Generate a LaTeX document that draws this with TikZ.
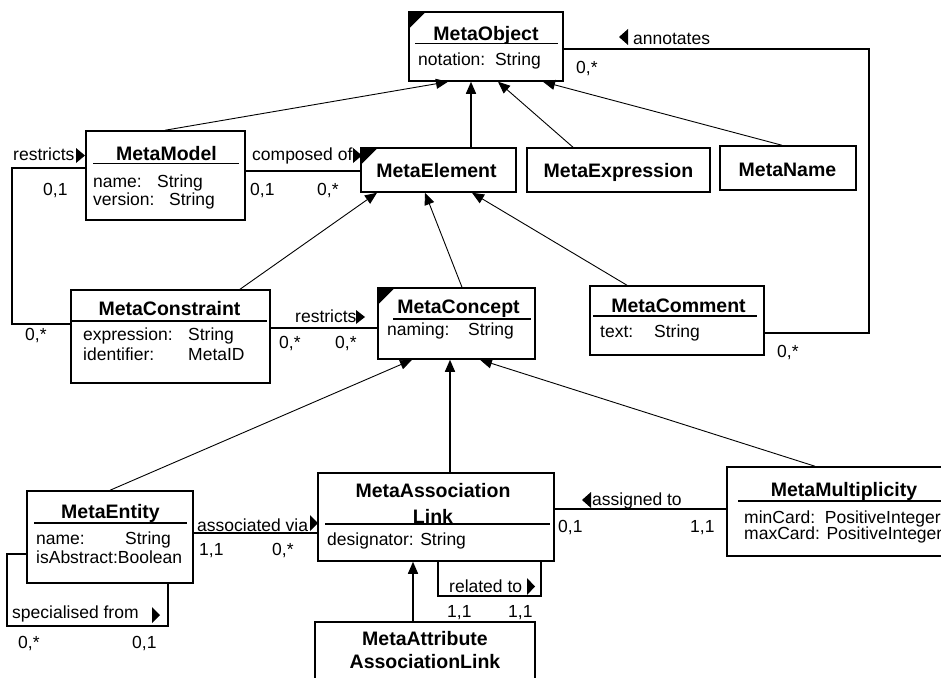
\documentclass[tikz,border=0pt]{standalone}
\usepackage{fontspec}
\setmainfont{Liberation Sans}
\usetikzlibrary{arrows.meta}
\begin{document}
\begin{tikzpicture}[x=1pt,y=-1pt,
  box/.style={draw, line width=1.5pt, inner sep=0pt, fill=white},
  ttl/.style={font=\fontsize{19.5}{21}\selectfont\bfseries, inner sep=0pt, anchor=base},
  txt/.style={font=\fontsize{17.5}{19}\selectfont, inner sep=0pt, anchor=base west},
  gen/.style={-{Triangle[length=12pt,width=10pt]}, line width=0.9pt},
  genv/.style={gen, line width=1.5pt},
  assoc/.style={line width=1.5pt},
  uline/.style={line width=1.5pt}]
\path[use as bounding box] (0,0) rectangle (941,677);
\clip (0,0) rectangle (941,677);

% ---- boxes ----
\node[box, minimum width=154pt, minimum height=69pt] (obj) at (486,46.5) {};
\node[box, minimum width=159pt, minimum height=89pt] (model) at (165.5,175.5) {};
\node[box, minimum width=155pt, minimum height=44pt] (elem) at (438.5,170) {};
\node[box, minimum width=183pt, minimum height=44pt] (expr) at (618.5,170) {};
\node[box, minimum width=136pt, minimum height=44pt] (mname) at (788,168) {};
\node[box, minimum width=199pt, minimum height=93pt] (cons) at (170.5,336.5) {};
\node[box, minimum width=157pt, minimum height=71pt] (concept) at (456.5,323.5) {};
\node[box, minimum width=174pt, minimum height=69pt] (comment) at (677,320.5) {};
\node[box, minimum width=166pt, minimum height=92pt] (entity) at (110,537) {};
\node[box, minimum width=236pt, minimum height=88pt] (assoc) at (436,517) {};
\node[box, minimum width=223pt, minimum height=89pt] (mult) at (838.5,511.5) {};
\node[box, minimum width=220pt, minimum height=78pt] (attr) at (425,661) {};

% corner triangles
\fill (obj.north west) -- ++(18,0) -- ++(-18,18) -- cycle;
\fill (elem.north west) -- ++(18,0) -- ++(-18,18) -- cycle;
\fill (concept.north west) -- ++(18,0) -- ++(-18,18) -- cycle;

% ---- box texts ----
\node[ttl] (objt) at (486,41) {MetaObject};
\draw[uline] (415,43.5) -- (558,43.5);
\node[txt] (obja) at (418,65) {notation:\ \ String};

\node[ttl] (modelt) at (166.5,160) {MetaModel};
\draw[uline] (93,163.5) -- (239,163.5);
\node[txt] (modela1) at (93,187) {name:};
\node[txt] (modela2) at (157,187) {String};
\node[txt] (modela3) at (93,205) {version:};
\node[txt] (modela4) at (169,205) {String};

\node[ttl] (elemt) at (436.5,177) {MetaElement};
\node[ttl] (exprt) at (618.5,177) {MetaExpression};
\node[ttl] (mnamet) at (787.5,176) {MetaName};

\node[ttl] (const) at (169.5,315) {MetaConstraint};
\draw[uline] (71,321) -- (267,321);
\node[txt] (consa1) at (83,340) {expression:};
\node[txt] (consa2) at (188,340) {String};
\node[txt] (consa3) at (83,360) {identifier:};
\node[txt] (consa4) at (188,360) {MetaID};

\node[ttl] (conceptt) at (458.5,313) {MetaConcept};
\draw[uline] (393,319) -- (531,319);
\node[txt] (concepta1) at (387,335) {naming:};
\node[txt] (concepta2) at (468,335) {String};

\node[ttl] (commentt) at (678.5,312) {MetaComment};
\draw[uline] (593,316) -- (757,316);
\node[txt] (commenta1) at (600,337) {text:};
\node[txt] (commenta2) at (654,337) {String};

\node[ttl] (entityt) at (110.5,518) {MetaEntity};
\draw[uline] (34,523) -- (187,523);
\node[txt] (entitya1) at (36,544) {name:};
\node[txt] (entitya2) at (125,544) {String};
\node[txt] (entitya3) at (36,563) {isAbstract:Boolean};

\node[ttl] (assoct1) at (433,497) {MetaAssociation};
\node[ttl] (assoct2) at (433,523) {Link};
\draw[uline] (325,524) -- (550,524);
\node[txt] (assoca) at (327,545) {designator: String};

\node[ttl] (multt) at (844,496) {MetaMultiplicity};
\draw[uline] (738,501) -- (945,501);
\node[txt] (multa1) at (744,523) {minCard:\ \ PositiveInteger};
\node[txt] (multa3) at (744,539) {maxCard: PositiveInteger};

\node[ttl] (attrt1) at (425,645) {MetaAttribute};
\node[ttl] (attrt2) at (425,668) {AssociationLink};

% ---- generalisations ----
\draw[gen] (model.north -| 165,0) -- (obj.south -| 448,0);
\draw[genv] (elem.north -| 471,0) -- (obj.south -| 471,0);
\draw[gen] (expr.north -| 573,0) -- (obj.south -| 498,0);
\draw[gen] (mname.north -| 782,0) -- (obj.south -| 543,0);
\draw[gen] (cons.north -| 240,0) -- (elem.south -| 377,0);
\draw[gen] (concept.north -| 462,0) -- (elem.south -| 425,0);
\draw[gen] (comment.north -| 627,0) -- (elem.south -| 472,0);
\draw[gen] (entity.north -| 110,0) -- (concept.south -| 412,0);
\draw[genv] (assoc.north -| 450,0) -- (concept.south -| 450,0);
\draw[gen] (mult.north -| 815,0) -- (concept.south -| 480,0);
\draw[genv] (attr.north -| 413,0) -- (assoc.south -| 413,0);

% ---- associations ----
\coordinate (ra) at (12,324);
\coordinate (rb) at (12,168);
\draw[assoc] (cons.west |- ra) -- (ra) -- (rb) -- (model.west |- rb);
\node[txt] (lrestr1) at (13,160) {restricts};
\fill (76,148) -- (85,155.5) -- (76,163) -- cycle;
\node[txt] (m1) at (43,195) {0,1};
\node[txt] (m2) at (25,340) {0,*};

\coordinate (co) at (300,171);
\draw[assoc] (model.east |- co) -- (elem.west |- co);
\node[txt] (lcomp) at (252,160) {composed of};
\fill (353,148) -- (362,155.5) -- (353,163) -- cycle;
\node[txt] (m3) at (250,195) {0,1};
\node[txt] (m4) at (317,195) {0,*};

\coordinate (rc) at (320,328);
\draw[assoc] (cons.east |- rc) -- (concept.west |- rc);
\node[txt] (lrestr2) at (295,322) {restricts};
\fill (356,310) -- (365,317) -- (356,324) -- cycle;
\node[txt] (m5) at (279,348) {0,*};
\node[txt] (m6) at (335,348) {0,*};

\coordinate (aa) at (869,333);
\coordinate (ab) at (869,49);
\draw[assoc] (comment.east |- aa) -- (aa) -- (ab) -- (obj.east |- ab);
\fill (628,29) -- (619,37) -- (628,45) -- cycle;
\node[txt] (lannot) at (633,45) {annotates};
\node[txt] (m7) at (576,73) {0,*};
\node[txt] (m8) at (777,357) {0,*};

\coordinate (av) at (250,533);
\draw[assoc] (entity.east |- av) -- (assoc.west |- av);
\node[txt] (lassoc) at (197,531) {associated via};
\fill (310,515) -- (318,523) -- (310,531) -- cycle;
\node[txt] (m9) at (199,555) {1,1};
\node[txt] (m10) at (272,555) {0,*};

\coordinate (as) at (640,509);
\draw[assoc] (assoc.east |- as) -- (mult.west |- as);
\fill (591,492) -- (582,500) -- (591,508) -- cycle;
\node[txt] (lassign) at (592,505) {assigned to};
\node[txt] (m11) at (558,532) {0,1};
\node[txt] (m12) at (690,532) {1,1};

\coordinate (sa) at (7,554);
\coordinate (sb) at (7,626);
\coordinate (sc) at (168,626);
\draw[assoc] (entity.west |- sa) -- (sa) -- (sb) -- (sc) -- (entity.south -| sc);
\node[txt] (lspec) at (12,618) {specialised from};
\fill (152,607) -- (160,615) -- (152,623) -- cycle;
\node[txt] (m13) at (18,648) {0,*};
\node[txt] (m14) at (132,648) {0,1};

\coordinate (rl) at (438,596);
\coordinate (rr) at (541,596);
\draw[assoc] (assoc.south -| rl) -- (rl) -- (rr) -- (assoc.south -| rr);
\node[txt] (lrel) at (449,592) {related to};
\fill (527,578) -- (535,586.5) -- (527,595) -- cycle;
\node[txt] (m15) at (447,617) {1,1};
\node[txt] (m16) at (508,617) {1,1};
\end{tikzpicture}
\end{document}
